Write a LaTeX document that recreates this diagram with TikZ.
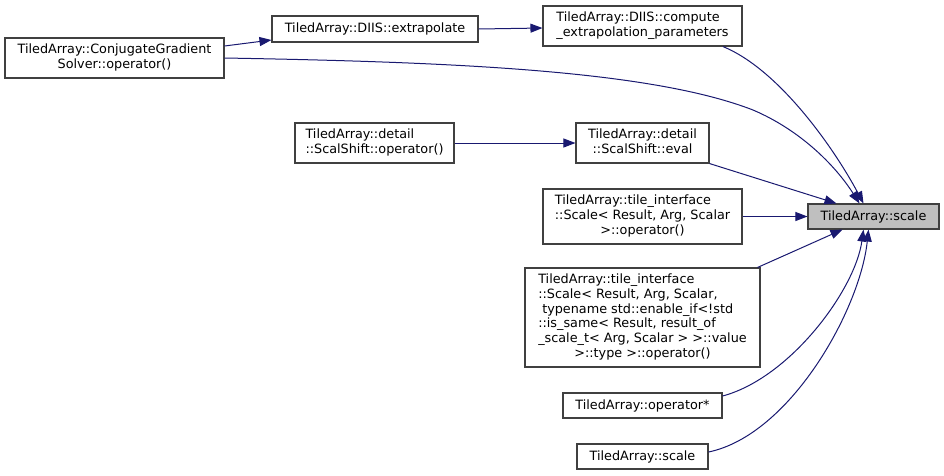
\documentclass[tikz,border=0pt]{standalone}
\usepackage{fontspec}
\setmainfont{DejaVu Sans}
\usetikzlibrary{arrows.meta,calc}
\definecolor{edgeblue}{HTML}{191970}
\definecolor{boxgray}{HTML}{404040}
\definecolor{hilite}{HTML}{BFBFBF}
\newcommand\lastc[1]{\multicolumn{1}{@{}c@{}}{#1}}
\tikzset{
  box/.style={draw=boxgray, line width=1.1pt, fill=white, inner sep=0pt,
    font=\fontsize{12.8}{14.7}\selectfont},
  edge/.style={draw=edgeblue, line width=1pt,
    -{Triangle[length=12pt,width=9pt,fill=edgeblue]}},
}
\begin{document}
\begin{tikzpicture}[x=1pt,y=-1pt]
\useasboundingbox (0,0) rectangle (944,475);
\node[box, minimum width=219pt, minimum height=40pt] (cg) at (114.5,58)
  {\begin{tabular}{@{}l@{}}TiledArray::ConjugateGradient\\ \lastc{Solver::operator()}\end{tabular}};
\node[box, minimum width=206pt, minimum height=26pt] (extr) at (375,29)
  {TiledArray::DIIS::extrapolate};
\node[box, minimum width=199pt, minimum height=40pt] (comp) at (642.5,26)
  {\begin{tabular}{@{}l@{}}TiledArray::DIIS::compute\\ \lastc{\_extrapolation\_parameters}\end{tabular}};
\node[box, minimum width=159pt, minimum height=40pt] (ssop) at (374.5,143)
  {\begin{tabular}{@{}l@{}}TiledArray::detail\\ \lastc{::ScalShift::operator()}\end{tabular}};
\node[box, minimum width=133pt, minimum height=40pt] (sseval) at (642.5,143)
  {\begin{tabular}{@{}l@{}}TiledArray::detail\\ \lastc{::ScalShift::eval}\end{tabular}};
\node[box, minimum width=199pt, minimum height=55pt] (tscale) at (642.5,216.5)
  {\begin{tabular}{@{}l@{}}TiledArray::tile\_interface\\ ::Scale< Result, Arg, Scalar\\ \lastc{>::operator()}\end{tabular}};
\node[box, minimum width=235pt, minimum height=99pt] (big) at (642.5,317.5)
  {\begin{tabular}{@{}l@{}}TiledArray::tile\_interface\\ ::Scale< Result, Arg, Scalar,\\ \hspace{4pt}typename std::enable\_if<!std\\ ::is\_same< Result, result\_of\\ \_scale\_t< Arg, Scalar > >::value\\ \lastc{>::type >::operator()}\end{tabular}};
\node[box, minimum width=159pt, minimum height=25pt] (opstar) at (642.5,405.5)
  {TiledArray::operator*};
\node[box, minimum width=131pt, minimum height=25pt] (scaletwo) at (642.5,456.5)
  {TiledArray::scale};
\node[box, fill=hilite, minimum width=131pt, minimum height=25pt] (target) at (873.5,216.5)
  {TiledArray::scale};
% edges
\draw[edge] ($(cg.east)+(0,-12)$) -- ($(extr.west)+(0,11)$);
\draw[edge] (extr.east) -- ($(comp.west)+(0,2)$);
\draw[edge] ($(comp.south)+(80.5,0)$) .. controls (780,70) and (835,150) .. ($(target.north)+(-10,0)$);
\coordinate (cgmid) at (753,110);
\draw[edge] (cg.east) .. controls (450,62) and (650,70) .. (cgmid)
  .. controls (800,130) and (835,165) .. ($(target.north)+(-14,0)$);
\draw[edge] (ssop.east) -- (sseval.west);
\draw[edge] (sseval.south east) -- ($(target.north)+(-37,0)$);
\draw[edge] (tscale.east) -- (target.west);
\draw[edge] ($(big.north east)+(-3,0)$) -- ($(target.south)+(-31,0)$);
\draw[edge] ($(opstar.east)+(0,-9.5)$) .. controls (790,378) and (855,290) .. ($(target.south)+(-10,0)$);
\draw[edge] ($(scaletwo.east)+(0,-4.5)$) .. controls (790,435) and (860,310) .. ($(target.south)+(-5,0)$);
\end{tikzpicture}
\end{document}
